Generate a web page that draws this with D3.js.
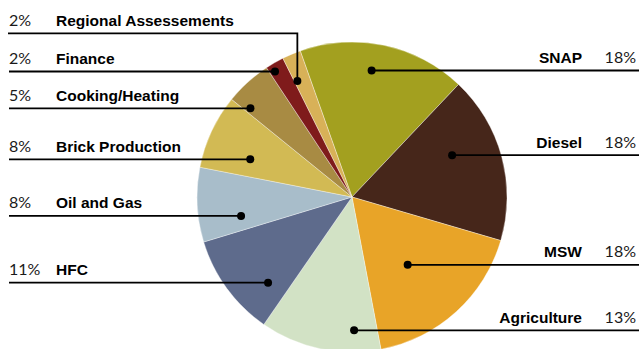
<!DOCTYPE html>
<html>
<head>
<meta charset="utf-8">
<script src="https://cdn.jsdelivr.net/npm/d3@7"></script>
<style>
  html, body { margin: 0; padding: 0; background: #ffffff; }
  svg { display: block; }
  .name { font-family: "Liberation Sans", Arial, sans-serif; font-weight: 700; font-size: 15.5px; fill: #000; }
  .pct { font-family: "Lato", "Open Sans", sans-serif; font-weight: 400; font-size: 16px; fill: #1a1a1a; }
</style>
</head>
<body>
<svg id="chart" width="639" height="349"></svg>
<script>
// Emission sources and their shares (%), clockwise from the top
const categories = ["SNAP", "Diesel", "MSW", "Agriculture", "HFC", "Oil and Gas",
                    "Brick Production", "Cooking/Heating", "Finance", "Regional Assessements"];
const shares = [18, 18, 18, 13, 11, 8, 8, 5, 2, 2];
const shareLabels = ["18%", "18%", "18%", "13%", "11%", "8%", "8%", "5%", "2%", "2%"];
const colors = ["#a3a01f", "#46261a", "#e8a428", "#d2e2c5", "#5e6b8c",
                "#a8bdca", "#d2ba54", "#a88b43", "#7f1b1b", "#d8b158"];

// Leader anchor inside each slice: fraction along the slice angle, fraction of radius
const anchorT = [0.45, 0.38, 0.545, 0.217, 0.253, 0.257, 0.33, 0.12, 0.28, 0.18];
const anchorK = [0.826, 0.70, 0.566, 0.86, 0.774, 0.726, 0.70, 0.87, 0.95, 0.827];
const side = ["right", "right", "right", "right", "left", "left", "left", "left", "left", "left"];

const svg = d3.select("#chart");
const W = 639;
const cx = 352, cy = 197, R = 155;
const startDeg = -19.5;

const pie = d3.pie()
  .sort(null)
  .value(d => d)
  .startAngle(startDeg * Math.PI / 180)
  .endAngle((startDeg + 360) * Math.PI / 180);

const arcs = pie(shares);
const arc = d3.arc().innerRadius(0).outerRadius(R);

const g = svg.append("g").attr("transform", `translate(${cx},${cy})`);

g.selectAll("path.slice")
  .data(arcs)
  .join("path")
  .attr("class", "slice")
  .attr("d", arc)
  .attr("fill", (d, i) => colors[i])
  .attr("stroke", "#ffffff")
  .attr("stroke-width", 0.5)
  .attr("stroke-opacity", 0.7);

// Anchor point for each slice's leader line
const anchors = arcs.map((d, i) => {
  const a = d.startAngle + anchorT[i] * (d.endAngle - d.startAngle);
  const r = anchorK[i] * R;
  return { x: cx + r * Math.sin(a), y: cy - r * Math.cos(a) };
});

const lines = svg.append("g").attr("stroke", "#000").attr("stroke-width", 1.8).attr("fill", "none");
const labels = svg.append("g");

const leftX = 9, rightX = W;
const textGap = 7.5;

anchors.forEach((p, i) => {
  // Regional Assessements is lifted above the crowded top-left with an elbow
  const elbow = categories[i] === "Regional Assessements";
  const lineY = elbow ? 33.3 : p.y;

  if (side[i] === "left") {
    const pts = elbow
      ? [[leftX - 1, lineY], [p.x, lineY], [p.x, p.y]]
      : [[leftX, lineY], [p.x, lineY]];
    lines.append("path").attr("d", d3.line()(pts));
    labels.append("text").attr("class", "pct")
      .attr("x", leftX).attr("y", lineY - textGap)
      .text(shareLabels[i]);
    labels.append("text").attr("class", "name")
      .attr("x", 56).attr("y", lineY - textGap)
      .text(categories[i]);
  } else {
    lines.append("path").attr("d", d3.line()([[p.x, lineY], [rightX, lineY]]));
    labels.append("text").attr("class", "pct")
      .attr("x", 636).attr("y", lineY - textGap)
      .attr("text-anchor", "end")
      .text(shareLabels[i]);
    labels.append("text").attr("class", "name")
      .attr("x", 582).attr("y", lineY - textGap)
      .attr("text-anchor", "end")
      .text(categories[i]);
  }
});

svg.append("g").selectAll("circle")
  .data(anchors)
  .join("circle")
  .attr("cx", d => d.x)
  .attr("cy", d => d.y)
  .attr("r", 4)
  .attr("fill", "#000");
</script>
</body>
</html>
